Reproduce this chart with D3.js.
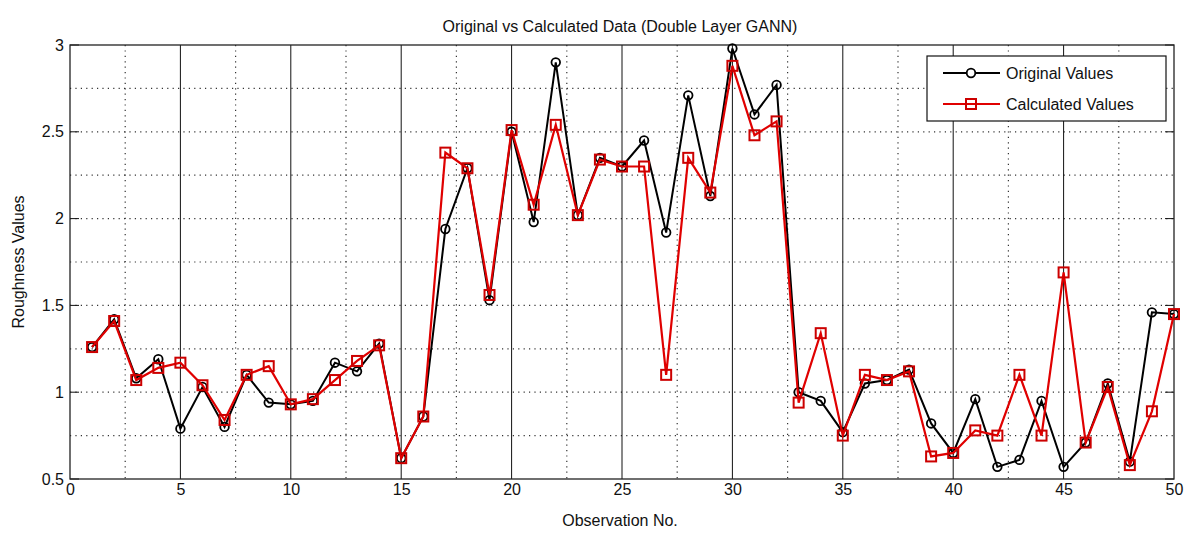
<!DOCTYPE html>
<html><head><meta charset="utf-8">
<script src="https://cdn.jsdelivr.net/npm/d3@7"></script>
<style>body{margin:0;background:#fff;} text{font-family:"Liberation Sans",Arial,sans-serif;fill:#111;}</style>
</head><body><svg id="c" width="1187" height="533"></svg>
<script>
const observations = d3.range(1, 51);
const originalValues = [1.26,1.42,1.08,1.19,0.79,1.03,0.80,1.10,0.94,0.93,
  0.95,1.17,1.12,1.28,0.62,0.86,1.94,2.29,1.53,2.50,
  1.98,2.90,2.02,2.35,2.30,2.45,1.92,2.71,2.13,2.98,
  2.60,2.77,1.00,0.95,0.77,1.05,1.07,1.13,0.82,0.65,
  0.96,0.57,0.61,0.95,0.57,0.71,1.05,0.60,1.46,1.45];
const calculatedValues = [1.26,1.41,1.07,1.14,1.17,1.04,0.84,1.10,1.15,0.93,
  0.96,1.07,1.18,1.27,0.62,0.86,2.38,2.29,1.56,2.51,
  2.08,2.54,2.02,2.34,2.30,2.30,1.10,2.35,2.15,2.88,
  2.48,2.56,0.94,1.34,0.75,1.10,1.07,1.12,0.63,0.65,
  0.78,0.75,1.10,0.75,1.69,0.71,1.03,0.58,0.89,1.45];
const xTicks = [0,5,10,15,20,25,30,35,40,45,50];
const yTicks = [0.5,1,1.5,2,2.5,3];
const xMinor = [2.5,7.5,12.5,17.5,22.5,27.5,32.5,37.5,42.5,47.5];
const yGrid = [0.75,1,1.25,1.5,1.75,2,2.25,2.5,2.75];
const seriesNames = ["Original Values","Calculated Values"];

const L=70, R=1174, T=45, B=479;
const svg = d3.select("#c");
const x = d3.scaleLinear().domain([0,50]).range([L,R]);
const y = d3.scaleLinear().domain([0.5,3]).range([B,T]);

// grid
const g = svg.append("g");
g.selectAll(".hg").data(yGrid).enter().append("line")
  .attr("x1",L).attr("x2",R).attr("y1",d=>y(d)).attr("y2",d=>y(d))
  .attr("stroke","#333").attr("stroke-width",1.2).attr("stroke-dasharray","1.2,4.2");
g.selectAll(".vm").data(xMinor).enter().append("line")
  .attr("y1",T).attr("y2",B).attr("x1",d=>x(d)).attr("x2",d=>x(d))
  .attr("stroke","#333").attr("stroke-width",1.2).attr("stroke-dasharray","1.2,4.2");
g.selectAll(".vs").data(xTicks.slice(1,-1)).enter().append("line")
  .attr("y1",T).attr("y2",B).attr("x1",d=>x(d)).attr("x2",d=>x(d))
  .attr("stroke","#111").attr("stroke-width",1);

// axes
const fs = 16;
const ax = svg.append("g").attr("transform",`translate(0,${B})`)
  .call(d3.axisBottom(x).tickValues(xTicks).tickSize(0).tickPadding(5).tickFormat(d3.format("d")));
ax.select(".domain").remove();
ax.selectAll("text").style("font-size",fs+"px").attr("fill","#222");
const ay = svg.append("g").attr("transform",`translate(${L},0)`)
  .call(d3.axisLeft(y).tickValues(yTicks).tickSize(0).tickPadding(6).tickFormat(d=>String(d)));
ay.select(".domain").remove();
ay.selectAll("text").style("font-size",fs+"px").attr("fill","#222");
// y ticks inward
svg.selectAll(".yt").data(yTicks).enter().append("line")
  .attr("x1",L).attr("x2",L+9).attr("y1",d=>y(d)).attr("y2",d=>y(d)).attr("stroke","#111");
svg.selectAll(".yt2").data(yTicks).enter().append("line")
  .attr("x1",R).attr("x2",R-9).attr("y1",d=>y(d)).attr("y2",d=>y(d)).attr("stroke","#111");

svg.append("rect").attr("x",L).attr("y",T).attr("width",R-L).attr("height",B-T)
  .attr("fill","none").attr("stroke","#222").attr("stroke-width",1.3);

// lines
const line = d3.line().x((d,i)=>x(observations[i])).y(d=>y(d));
svg.append("path").datum(originalValues).attr("d",line).attr("fill","none")
  .attr("stroke","#000").attr("stroke-width",2);
svg.selectAll(".oc").data(originalValues).enter().append("circle")
  .attr("cx",(d,i)=>x(observations[i])).attr("cy",d=>y(d)).attr("r",4.3)
  .attr("fill","none").attr("stroke","#000").attr("stroke-width",1.8);
svg.append("path").datum(calculatedValues).attr("d",line).attr("fill","none")
  .attr("stroke","#e00000").attr("stroke-width",2.2);
svg.selectAll(".cs").data(calculatedValues).enter().append("rect")
  .attr("x",(d,i)=>x(observations[i])-5).attr("y",d=>y(d)-5).attr("width",10).attr("height",10)
  .attr("fill","none").attr("stroke","#cc0000").attr("stroke-width",2);

// legend
const lg = svg.append("g");
lg.append("rect").attr("x",927).attr("y",56).attr("width",239).attr("height",65)
  .attr("fill","#fff").attr("stroke","#111").attr("stroke-width",1.2);
[0,1].forEach(i=>{
  const yy = 73 + i*31;
  lg.append("line").attr("x1",943).attr("x2",1000).attr("y1",yy).attr("y2",yy)
    .attr("stroke", i? "#e00000":"#000").attr("stroke-width",2);
  if(i===0) lg.append("circle").attr("cx",971).attr("cy",yy).attr("r",4.3).attr("fill","#fff").attr("stroke","#000").attr("stroke-width",1.8);
  else lg.append("rect").attr("x",966).attr("y",yy-5).attr("width",10).attr("height",10).attr("fill","none").attr("stroke","#cc0000").attr("stroke-width",2);
  lg.append("text").attr("x",1006).attr("y",yy+6).style("font-size",fs+"px").text(seriesNames[i]);
});

// titles
svg.append("text").attr("x",620).attr("y",32).attr("text-anchor","middle").style("font-size",fs+"px")
  .text("Original vs Calculated Data (Double Layer GANN)");
svg.append("text").attr("x",620).attr("y",526).attr("text-anchor","middle").style("font-size",fs+"px")
  .text("Observation No.");
svg.append("text").attr("transform",`translate(24,${(T+B)/2}) rotate(-90)`).attr("text-anchor","middle")
  .style("font-size",fs+"px").text("Roughness Values");
</script></body></html>
